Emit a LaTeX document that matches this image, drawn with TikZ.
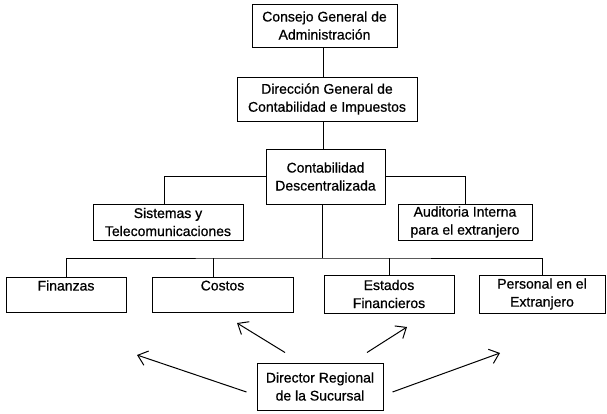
\documentclass[tikz,border=0pt]{standalone}
\usepackage{fontspec}
\setmainfont{Liberation Sans}[BoldFont={Liberation Sans},BoldFeatures={FakeBold=0.7}]
\usetikzlibrary{arrows.meta,calc}
\begin{document}
\begin{tikzpicture}[x=1pt,y=-1pt,
  box/.style={draw,line width=1pt,inner sep=0pt,align=center,
    font=\fontsize{14}{18}\selectfont\bfseries},
  link/.style={line width=1pt},
  arr/.style={line width=1pt,-{Straight Barb[length=9pt,width=15pt,line width=1pt]}}]
\useasboundingbox (0,0) rectangle (607,413);

% organisation boxes
\node[box,minimum width=145,minimum height=43] (cga) at (324.5,25.5) {Consejo General de\\Administración};
\node[box,minimum width=180,minimum height=44] (dgc) at (327,99) {Dirección General de\\Contabilidad e Impuestos};
\node[box,minimum width=119,minimum height=55] (cd) at (325.5,176.5) {Contabilidad\\Descentralizada};
\node[box,minimum width=150,minimum height=36] (sis) at (168,222) {Sistemas  y\\Telecomunicaciones};
\node[box,minimum width=134,minimum height=36] (aud) at (465,222) {Auditoria Interna\\para el extranjero};
\node[box,minimum width=120,minimum height=35] (fin) at (66,294.5) {Finanzas\\\mbox{}};
\node[box,minimum width=141,minimum height=35] (cos) at (222.5,294.5) {Costos\\\mbox{}};
\node[box,minimum width=130,minimum height=38] (est) at (389,294) {Estados\\Financieros};
\node[box,minimum width=126,minimum height=38] (per) at (542,294) {Personal en el\\Extranjero};
\node[box,minimum width=126,minimum height=47] (dir) at (320,386.5) {Director Regional\\de la Sucursal};

% tree connectors
\coordinate (spine) at (323,0);
\coordinate (bus) at (322,258);
\coordinate (tapS) at (164,0);
\coordinate (tapC) at (213,258);
\draw[link] (cga.south -| spine) -- (dgc.north -| spine);
\draw[link] (dgc.south -| spine) -- (cd.north -| spine);
\draw[link] (cd.south -| bus) -- (bus);
\draw[link] (cd.west) -| (sis.north -| tapS);
\draw[link] (cd.east) -| (aud.north);
\draw[link] (fin.north) |- (bus) -| (per.north);
\draw[link] (tapC) -- (cos.north -| tapC);
\draw[link] (est.north) -- (est.north |- bus);

% arrows from the regional director
\coordinate (t1) at (137,355);
\coordinate (t2) at (237,323);
\coordinate (t3) at (407,327);
\coordinate (t4) at (500,353);
\draw[arr] ([shift={(-10,5.5)}]dir.west) -- (t1);
\draw[arr] ([shift={(-35,-10)}]dir.north) -- (t2);
\draw[arr] ([shift={(47,-10)}]dir.north) -- (t3);
\draw[arr] ([shift={(9,5.5)}]dir.east) -- (t4);
\end{tikzpicture}
\end{document}
